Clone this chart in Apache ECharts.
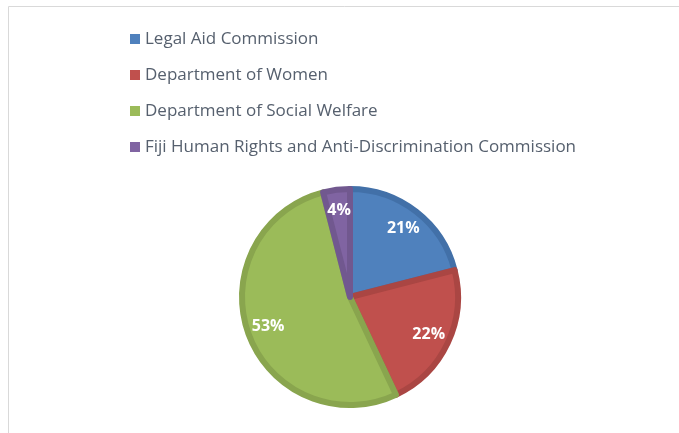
<!DOCTYPE html>
<html><head><meta charset="utf-8">
<script src="https://cdn.jsdelivr.net/npm/echarts@6/dist/echarts.min.js"></script>
<style>html,body{margin:0;padding:0;background:#fff}#c{width:679px;height:433px}</style>
</head><body><div id="c"></div>
<script>
const categories = ["Legal Aid Commission","Department of Women","Department of Social Welfare","Fiji Human Rights and Anti-Discrimination Commission"];
const values = [21, 22, 53, 4];
const fillColors = ["#4F81BD","#C0504D","#9BBB59","#8064A2"];
const edgeColors = ["#4270A8","#AA4643","#89A54E","#71588F"];

const chart = echarts.init(document.getElementById('c'), null, {renderer:'canvas'});
const pieData = categories.map((n,i)=>({name:n, value:values[i], itemStyle:{color:fillColors[i], borderColor:edgeColors[i]}}));
const labelData = categories.map((n,i)=>({name:n, value:values[i]}));
chart.setOption({
  animation:false,
  graphic:[{type:'rect', shape:{x:8.5,y:6.5,width:720,height:500}, style:{fill:'none', stroke:'#D9D9D9', lineWidth:1}, silent:true}],
  legend:{
    orient:'vertical', left:125, top:25, itemWidth:10, itemHeight:10, itemGap:18, icon:'rect',
    itemStyle:{borderWidth:0},
    data:categories,
    textStyle:{fontFamily:'Open Sans', fontSize:17, color:'#56606E', lineHeight:18, padding:[0,0,0,0]}
  },
  series:[
    {type:'pie', center:[350,297], radius:[0,108], startAngle:90, clockwise:true,
     itemStyle:{borderWidth:6}, label:{show:false}, labelLine:{show:false}, data:pieData, silent:true},
    {type:'pie', center:[350,297], radius:[0,168], startAngle:90, clockwise:true, legendHoverLink:false,
     itemStyle:{color:'rgba(0,0,0,0)', borderWidth:0},
     label:{show:true, position:'inside', formatter:'{d}%', color:'#fff', fontFamily:'Open Sans', fontWeight:'bold', fontSize:16},
     labelLine:{show:false}, data:labelData, silent:true, z:5}
  ]
});
</script></body></html>
